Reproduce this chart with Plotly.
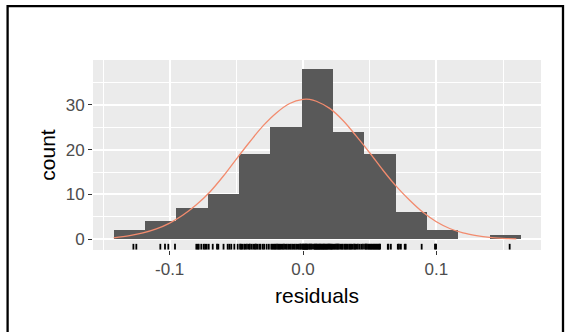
import plotly.graph_objects as go

# ---- data ----
bin_edges = [-0.1420, -0.1185, -0.0950, -0.0715, -0.0480, -0.0245, -0.0010,
             0.0225, 0.0460, 0.0695, 0.0930, 0.1165, 0.1400, 0.1635]
counts = [2, 4, 7, 10, 19, 25, 38, 24, 19, 6, 2, 0, 1]

residuals = [
    -0.1272, -0.1250,
    -0.1070, -0.1035, -0.1010, -0.0960,
    -0.0800, -0.0790, -0.0782, -0.0763, -0.0745, -0.0734, -0.0722,
    -0.0707, -0.0677, -0.0645, -0.0635, -0.0596, -0.0565, -0.0552, -0.0538, -0.0515, -0.0490,
    -0.0472, -0.0463, -0.0455, -0.0441, -0.0432, -0.0420, -0.0406, -0.0398, -0.0385, -0.0372,
    -0.0361, -0.0352, -0.0340, -0.0326, -0.0318, -0.0301, -0.0290, -0.0272, -0.0256,
    -0.0238, -0.0229, -0.0221, -0.0212, -0.0205, -0.0195, -0.0186, -0.0178, -0.0170, -0.0161,
    -0.0151, -0.0142, -0.0131, -0.0122, -0.0111, -0.0101, -0.0092, -0.0081, -0.0071, -0.0062,
    -0.0051, -0.0041, -0.0031, -0.0022, -0.0015,
    -0.0005, 0.0000, 0.0004, 0.0009, 0.0013, 0.0018, 0.0022, 0.0027, 0.0031, 0.0036,
    0.0045, 0.0052, 0.0060, 0.0068, 0.0082, 0.0088, 0.0093, 0.0098, 0.0104, 0.0110,
    0.0115, 0.0121, 0.0127, 0.0133, 0.0139, 0.0145, 0.0151, 0.0157, 0.0163, 0.0169,
    0.0175, 0.0181, 0.0188, 0.0195, 0.0202, 0.0209, 0.0215, 0.0221,
    0.0230, 0.0238, 0.0247, 0.0255, 0.0262, 0.0270, 0.0281, 0.0290, 0.0298, 0.0310,
    0.0318, 0.0326, 0.0335, 0.0346, 0.0355, 0.0362, 0.0372, 0.0383, 0.0391, 0.0400,
    0.0412, 0.0425, 0.0438, 0.0450,
    0.0465, 0.0472, 0.0480, 0.0490, 0.0497, 0.0505, 0.0512, 0.0520, 0.0528, 0.0535,
    0.0543, 0.0550, 0.0558, 0.0565, 0.0572, 0.0578, 0.0636, 0.0641, 0.0659,
    0.0711, 0.0720, 0.0734, 0.0763, 0.0770, 0.0890,
    0.0990, 0.0998,
    0.1550,
]

curve_x = [-0.142, -0.13, -0.12, -0.11, -0.10, -0.09, -0.08, -0.07, -0.06, -0.05,
           -0.04, -0.03, -0.02, -0.01, 0.0, 0.005, 0.01, 0.02, 0.03, 0.04,
           0.05, 0.06, 0.07, 0.08, 0.09, 0.10, 0.11, 0.12, 0.13, 0.14, 0.15, 0.16]
curve_y = [0.3, 0.8, 1.4, 2.3, 3.6, 5.4, 7.7, 10.5, 14.0, 17.9,
           21.7, 25.3, 28.2, 30.3, 31.2, 31.2, 30.8, 29.2, 26.5, 23.0,
           19.3, 15.4, 11.8, 8.7, 6.0, 3.9, 2.4, 1.4, 0.8, 0.4, 0.2, 0.1]

x_ticks = [-0.1, 0.0, 0.1]
x_tick_labels = ["-0.1", "0.0", "0.1"]
y_ticks = [0, 10, 20, 30]
y_tick_labels = ["0", "10", "20", "30"]

x_range = [-0.1575, 0.1785]
y_range = [-2.4, 40.0]

# ---- figure ----
centers = [(bin_edges[i] + bin_edges[i + 1]) / 2 for i in range(len(counts))]
widths = [bin_edges[i + 1] - bin_edges[i] for i in range(len(counts))]

fig = go.Figure()
fig.add_trace(go.Bar(x=centers, y=counts, width=widths,
                     marker=dict(color="#595959", line=dict(width=0)),
                     hoverinfo="skip", showlegend=False))
fig.add_trace(go.Scatter(x=curve_x, y=curve_y, mode="lines",
                         line=dict(color="#F28B6E", width=1.3, shape="spline"),
                         hoverinfo="skip", showlegend=False))

rug_len = 0.03 * (y_range[1] - y_range[0])
rx, ry = [], []
for v in residuals:
    rx += [v, v, None]
    ry += [y_range[0] + 0.1, y_range[0] + 0.1 + rug_len, None]
fig.add_trace(go.Scatter(x=rx, y=ry, mode="lines",
                         line=dict(color="black", width=1.8),
                         hoverinfo="skip", showlegend=False))

font = "Liberation Sans, Arial, sans-serif"
L, R, T, B = 93, 26, 60, 82
W, H = 567, 332
pw, ph = W - L - R, H - T - B

fig.update_layout(
    width=W, height=H,
    margin=dict(l=L, r=R, t=T, b=B, pad=0),
    paper_bgcolor="white", plot_bgcolor="#EBEBEB",
    bargap=0,
    font=dict(family=font),
    xaxis=dict(range=x_range, tickvals=x_ticks, ticktext=x_tick_labels,
               showgrid=True, gridcolor="white", gridwidth=1.8,
               zeroline=False, showline=False,
               ticks="outside", ticklen=4, tickwidth=1.2, tickcolor="#333333",
               tickfont=dict(size=17, color="#4D4D4D", family=font),
               minor=dict(dtick=0.05, tick0=0, showgrid=True, gridcolor="white", gridwidth=1.0, ticks=""),
               title=dict(text="residuals", font=dict(size=21, color="black", family=font), standoff=9),
               automargin=False, fixedrange=True),
    yaxis=dict(range=y_range, tickvals=y_ticks, ticktext=y_tick_labels,
               showgrid=True, gridcolor="white", gridwidth=1.8,
               zeroline=False, showline=False,
               ticks="outside", ticklen=4, tickwidth=1.2, tickcolor="#333333",
               tickfont=dict(size=17, color="#4D4D4D", family=font),
               minor=dict(dtick=5, tick0=0, showgrid=True, gridcolor="white", gridwidth=1.0, ticks=""),
               title=dict(text="count", font=dict(size=21, color="black", family=font), standoff=4),
               automargin=False, fixedrange=True),
)

# outer black frame of the image
def px_to_paper_x(px):
    return (px - L) / pw

def px_to_paper_y(py):
    return (H - B - py) / ph

fig.add_shape(type="rect", xref="paper", yref="paper",
              x0=px_to_paper_x(7.6), x1=px_to_paper_x(563),
              y0=px_to_paper_y(345), y1=px_to_paper_y(6.1),
              line=dict(color="black", width=2.3), fillcolor="rgba(0,0,0,0)",
              layer="above")

fig.write_html("out.html", config={"displayModeBar": False},
               post_script="document.body.style.margin='0';document.body.style.overflow='hidden';")
